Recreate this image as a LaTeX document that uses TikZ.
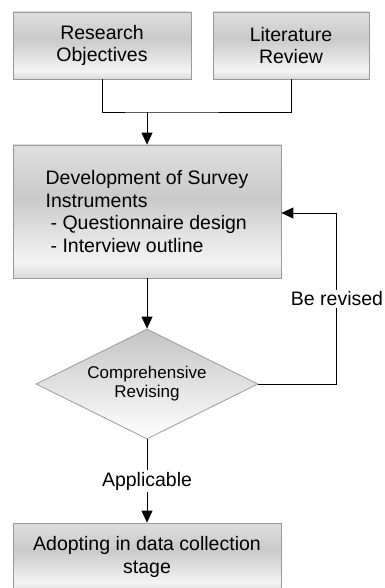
\documentclass[tikz,border=0pt]{standalone}
\usepackage{fontspec}
\setmainfont{Liberation Sans}
\usetikzlibrary{shapes.geometric,arrows.meta}
\definecolor{bordergray}{HTML}{9A9A9A}
\definecolor{bzero}{HTML}{D8D8D8}
\definecolor{bone}{HTML}{F4F4F4}
\definecolor{btwo}{HTML}{CACACA}
\definecolor{bthree}{HTML}{DEDEDE}
\definecolor{dtop}{HTML}{C4C4C4}
\pgfdeclareverticalshading{boxshade}{100bp}{color(0bp)=(bzero); color(25bp)=(bzero); color(31bp)=(bone); color(55bp)=(btwo); color(75bp)=(bthree); color(100bp)=(bthree)}
\begin{document}
\begin{tikzpicture}[x=1pt,y=-1pt,
  box/.style={draw=bordergray, line width=0.8pt, shading=boxshade, rectangle, inner sep=0pt,
    font=\fontsize{19.5}{22.5}\selectfont, align=center},
  conn/.style={line width=0.9pt, draw=black},
  arr/.style={conn, -{Triangle[length=12pt,width=11pt]}},
  lbl/.style={fill=white, inner sep=2pt, font=\fontsize{19.5}{22.5}\selectfont}]
\useasboundingbox (0,0) rectangle (384,588);
\node[box, minimum width=178pt, minimum height=67pt] (ro) at (102,45.5) {Research\\Objectives};
\node[box, minimum width=156pt, minimum height=67pt] (lr) at (291,45.5) {Literature\\Review};
\node[box, minimum width=268pt, minimum height=133pt, align=left] (dev) at (147,211.5)
  {Development of Survey\\Instruments\\\hspace*{5pt}- Questionnaire design\\\hspace*{5pt}- Interview outline};
\node[diamond, draw=bordergray, line width=0.8pt, top color=dtop, bottom color=white, aspect=2, inner sep=0pt,
  minimum width=222pt, minimum height=110pt, font=\fontsize{17}{19}\selectfont, align=center] (dia) at (147,384)
  {Comprehensive\\Revising};
\node[box, minimum width=268pt, minimum height=68pt] (ad) at (147,557) {Adopting in data collection\\stage};
\coordinate (j) at (147,112);
\coordinate (fb) at (336,213);
\draw[conn] (ro.south) |- (j) -| (lr.south);
\draw[arr] (j) -- (dev.north);
\draw[arr] (dev.south) -- (dia.north);
\draw[arr] (dia.east) -| (fb) -- (fb -| dev.east);
\node[lbl] (br) at (337,299) {Be revised};
\draw[arr] (dia.south) -- (ad.north) node[lbl, midway] (ap) {Applicable};
\end{tikzpicture}
\end{document}
